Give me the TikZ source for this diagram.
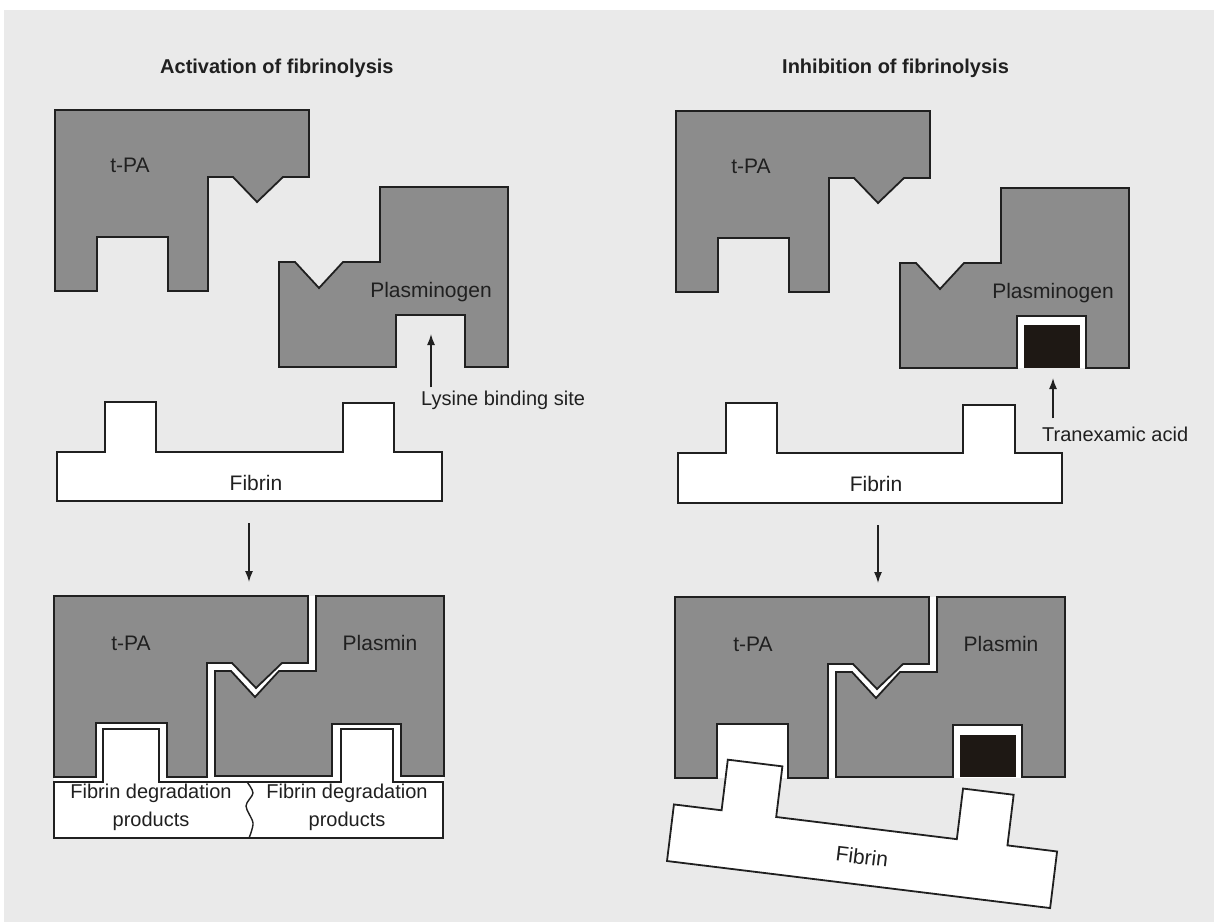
\documentclass[tikz,border=0pt]{standalone}
\usepackage{fontspec}
\setmainfont{Liberation Sans}
\usetikzlibrary{arrows.meta}
\definecolor{protGray}{RGB}{140,140,140}
\definecolor{pageGray}{RGB}{234,234,234}
\definecolor{inkDark}{RGB}{32,32,32}
\definecolor{acidBlack}{RGB}{30,24,20}
\newcommand{\TpaBlock}[2]{%
\begin{scope}[shift={(#1,#2)}]
  \draw[protein] (0,0) -- (254,0) -- (254,67) -- (228,67) -- (202,92) -- (178,67) -- (153,67) -- (153,181)
    -- (113,181) -- (113,127) -- (42,127) -- (42,181) -- (0,181) -- cycle;
\end{scope}}
\newcommand{\PlgBlock}[2]{%
\begin{scope}[shift={(#1,#2)}]
  \draw[protein] (0,0) -- (128,0) -- (128,180) -- (85,180) -- (85,128) -- (16,128) -- (16,180) -- (-101,180)
    -- (-101,75) -- (-85,75) -- (-61,101) -- (-37,75) -- (0,75) -- cycle;
\end{scope}}
\begin{document}
\begin{tikzpicture}[x=1pt,y=-1pt,>={Latex[length=11pt,width=8pt]},
  protein/.style={fill=protGray,draw=inkDark,line width=1.8pt},
  strand/.style={fill=white,draw=inkDark,line width=1.8pt},
  lbl/.style={font=\fontsize{21}{24}\selectfont,text=inkDark,inner sep=0pt},
  small/.style={font=\fontsize{20}{28}\selectfont,text=inkDark,inner sep=0pt},
  heading/.style={font=\bfseries\fontsize{20}{24}\selectfont,text=inkDark,inner sep=0pt,anchor=base west},
  pointer/.style={->,draw=inkDark,line width=1.4pt}]
  \useasboundingbox (0,0) rectangle (1214,922);
  \fill[pageGray] (4,10) rectangle (1214,922);

  \node[heading] (titleA) at (160,73) {Activation of fibrinolysis};
  \node[heading] (titleB) at (782,73) {Inhibition of fibrinolysis};

  % activation, before
  \TpaBlock{55}{110}
  \PlgBlock{380}{187}
  \node[lbl,anchor=base] (tpaA) at (130,172) {t-PA};
  \node[lbl,anchor=base] (plgA) at (431,297) {Plasminogen};
  \coordinate (lysSite) at (431,334);
  \node[small,anchor=base west,inner ysep=3pt] (lysLbl) at (421,405) {Lysine binding site};
  \draw[pointer] (lysSite |- lysLbl.north) -- (lysSite);
  \draw[strand] (57,501) -- (57,452) -- (105,452) -- (105,402) -- (156,402) -- (156,452) -- (343,452) -- (343,403)
    -- (394,403) -- (394,452) -- (442,452) -- (442,501) -- cycle;
  \node[lbl,anchor=base] (fibA) at (256,490) {Fibrin};
  \coordinate (fibAout) at (249,523);
  \coordinate (cpxAin) at (249,582);
  \draw[pointer] (fibAout) -- (cpxAin);

  % activation, after
  \fill[white] (54,596) rectangle (444,782);
  \TpaBlock{54}{596}
  \PlgBlock{316}{596}
  \node[lbl,anchor=base] (tpaC) at (131,650) {t-PA};
  \node[lbl,anchor=base] (plmA) at (380,650) {Plasmin};
  \draw[strand] (54,838) -- (54,782) -- (103,782) -- (103,729) -- (159,729) -- (159,782) -- (341,782) -- (341,729)
    -- (393,729) -- (393,782) -- (443,782) -- (443,838) -- cycle;
  \draw[draw=inkDark,line width=1.4pt] plot[smooth] coordinates {(247,782) (253,793) (246,806) (253,823) (249,838)};
  \node[small,align=center] (fdpA) at (151,807) {Fibrin degradation\\products};
  \node[small,align=center] (fdpB) at (347,807) {Fibrin degradation\\products};

  % inhibition, before
  \TpaBlock{676}{111}
  \fill[white] (1017,316) rectangle (1086,368);
  \PlgBlock{1001}{188}
  \fill[acidBlack] (1024,325) rectangle (1080,368);
  \node[lbl,anchor=base] (tpaB) at (751,173) {t-PA};
  \node[lbl,anchor=base] (plgB) at (1053,298) {Plasminogen};
  \coordinate (acidSite) at (1053,378);
  \node[small,anchor=base west,inner ysep=8pt] (acidLbl) at (1042,441) {Tranexamic acid};
  \draw[pointer] (acidSite |- acidLbl.north) -- (acidSite);
  \draw[strand] (678,503) -- (678,453) -- (726,453) -- (726,403) -- (777,403) -- (777,453) -- (963,453) -- (963,405)
    -- (1015,405) -- (1015,453) -- (1062,453) -- (1062,503) -- cycle;
  \node[lbl,anchor=base] (fibB) at (876,491) {Fibrin};
  \coordinate (fibBout) at (878,525);
  \coordinate (cpxBin) at (878,583);
  \draw[pointer] (fibBout) -- (cpxBin);

  % inhibition, after
  \fill[white] (675,597) rectangle (1065,778);
  \TpaBlock{675}{597}
  \PlgBlock{937}{597}
  \fill[acidBlack] (960,735) rectangle (1016,777);
  \node[lbl,anchor=base] (tpaD) at (753,651) {t-PA};
  \node[lbl,anchor=base] (plmB) at (1001,651) {Plasmin};
  \begin{scope}[shift={(667,861)},rotate=-7]
    \draw[strand] (0,0) -- (0,-57) -- (48,-57) -- (48,-108) -- (103,-108) -- (103,-57) -- (285,-57) -- (285,-108)
      -- (336,-108) -- (336,-57) -- (386,-57) -- (386,0) -- cycle;
    \node[lbl,rotate=-7] (fibBrot) at (193,-28) {Fibrin};
  \end{scope}
\end{tikzpicture}
\end{document}
